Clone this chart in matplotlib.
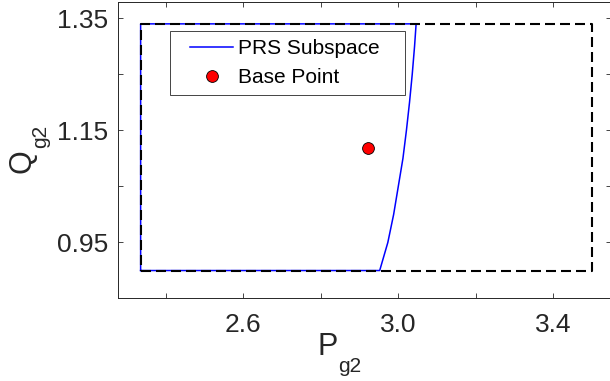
import matplotlib
matplotlib.use("Agg")
import matplotlib.pyplot as plt
from matplotlib.lines import Line2D
from matplotlib.legend_handler import HandlerLine2D

# Границы исходной области (пунктир)
box_x = [2.335, 3.5, 3.5, 2.335, 2.335]
box_y = [0.9, 0.9, 1.34, 1.34, 0.9]

# Правая граница подпространства PRS (кривая снизу вверх)
curve_y = [0.90, 0.95, 1.00, 1.05, 1.10, 1.15, 1.20, 1.25, 1.30, 1.34]
curve_x = [2.952, 2.973, 2.988, 3.000, 3.012, 3.021, 3.029, 3.036, 3.042, 3.046]
prs_left = 2.335

# Базовая точка
base_x = [2.921]
base_y = [1.119]

# Деления осей
xticks = [2.4, 2.6, 2.8, 3.0, 3.2, 3.4]
xtick_labels = ["", "2.6", "", "3.0", "", "3.4"]
yticks = [0.95, 1.05, 1.15, 1.25, 1.35]
ytick_labels = ["0.95", "", "1.15", "", "1.35"]

plt.rcParams["font.family"] = ["Liberation Sans", "DejaVu Sans"]

DARK = "#262626"
W, H = 610, 381

fig = plt.figure(figsize=(W / 100, H / 100), dpi=100)
# правая рамка уходит чуть за край картинки, как в оригинале
ax = fig.add_axes([118 / W, 83 / H, 493 / W, 296 / H])

# Контур PRS: левая сторона, низ, кривая, верх
prs_x = [prs_left] + curve_x + [prs_left, prs_left]
prs_y = [curve_y[0]] + curve_y + [curve_y[-1], curve_y[0]]
ax.plot(prs_x, prs_y, color="#0000ff", lw=1.1, zorder=2, label="PRS Subspace   ")
ax.plot(box_x, box_y, color="black", lw=1.5, dashes=[4.8, 2.4], zorder=3)
ax.plot(base_x, base_y, "o", color="red", markeredgecolor="black",
        markeredgewidth=0.6, markersize=8.5, zorder=4, label="Base Point")

ax.set_xlim(2.2766, 3.549)
ax.set_ylim(0.851, 1.379)
ax.set_xticks(xticks)
ax.set_xticklabels(xtick_labels)
ax.set_yticks(yticks)
ax.set_yticklabels(ytick_labels)
ax.tick_params(direction="in", length=3.6, width=0.6, colors=DARK,
               labelsize=19, top=True, right=True)
ax.tick_params(axis="x", pad=11)
ax.tick_params(axis="y", pad=7)
for s in ax.spines.values():
    s.set_linewidth(0.7)
    s.set_color(DARK)

# Подписи осей с индексом, как в MATLAB (индекс опущен ниже)
fig.text(318 / W, (H - 355) / H, "P", fontsize=22, color=DARK,
         ha="left", va="baseline")
fig.text(338 / W, (H - 372) / H, "g2", fontsize=15, color=DARK,
         ha="left", va="baseline")
fig.text(30 / W, (H - 173) / H, "Q", fontsize=22, color=DARK, rotation=90,
         rotation_mode="anchor", ha="left", va="baseline")
fig.text(46 / W, (H - 148) / H, "g2", fontsize=15, color=DARK, rotation=90,
         rotation_mode="anchor", ha="left", va="baseline")

leg = ax.legend(loc="upper left", bbox_to_anchor=(0.1054, 0.902), borderaxespad=0,
                fontsize=15, frameon=True, fancybox=False, framealpha=1,
                edgecolor=DARK, borderpad=0.39, labelspacing=0.48,
                handlelength=2.64, handletextpad=0.24, numpoints=1,
                handler_map={Line2D: HandlerLine2D(xpad=0.57)})
leg.get_frame().set_linewidth(0.6)

fig.savefig("out.png", dpi=100)
